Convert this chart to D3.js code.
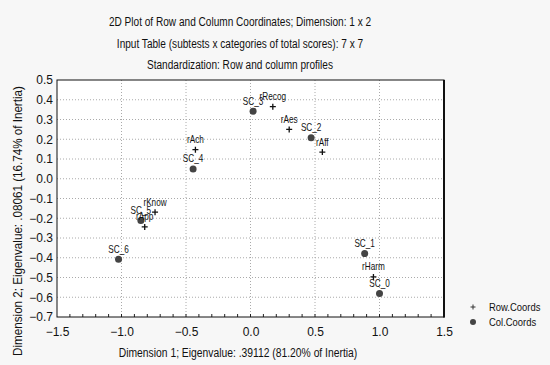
<!DOCTYPE html>
<html>
<head>
<meta charset="utf-8">
<script src="https://cdn.jsdelivr.net/npm/d3@7"></script>
<style>
  body { margin: 0; background: #f7f7f7; }
  text { font-family: "Liberation Sans", Arial, sans-serif; fill: #111; }
</style>
</head>
<body>
<div id="chart"></div>
<script>
// data
const rowLabels = ['rRecog', 'rAes', 'rAff', 'rAch', 'rKnow', 'rApp', 'rHarm'];
const rowX = [0.173, 0.30, 0.557, -0.427, -0.74, -0.82, 0.953];
const rowY = [0.365, 0.25, 0.135, 0.147, -0.169, -0.244, -0.497];

const colLabels = ['SC_0', 'SC_1', 'SC_2', 'SC_3', 'SC_4', 'SC_5', 'SC_6'];
const colX = [1.0, 0.885, 0.47, 0.02, -0.445, -0.85, -1.023];
const colY = [-0.581, -0.379, 0.208, 0.342, 0.05, -0.212, -0.408];

const xTicks = [-1.5, -1.0, -0.5, 0.0, 0.5, 1.0, 1.5];
const yTicks = [0.5, 0.4, 0.3, 0.2, 0.1, 0.0, -0.1, -0.2, -0.3, -0.4, -0.5, -0.6, -0.7];

const titles = [
  '2D Plot of Row and Column Coordinates; Dimension: 1 x 2',
  'Input Table (subtests x categories of total scores): 7 x 7',
  'Standardization: Row and column profiles'
];
const xTitle = 'Dimension 1; Eigenvalue: .39112 (81.20% of Inertia)';
const yTitle = 'Dimension 2; Eigenvalue: .08061 (16.74% of Inertia)';
const legendLabels = ['Row.Coords', 'Col.Coords'];

const width = 550, height = 365;
const plot = { left: 57, right: 444, top: 80, bottom: 317 };

const svg = d3.select('#chart').append('svg')
  .attr('width', width)
  .attr('height', height);

// narrow the text like the original screenshot
function squeeze(sel, k) {
  sel.each(function() {
    const len = this.getComputedTextLength();
    d3.select(this).attr('textLength', len * k).attr('lengthAdjust', 'spacingAndGlyphs');
  });
}

const x = d3.scaleLinear().domain([-1.5, 1.5]).range([plot.left, plot.right]);
const y = d3.scaleLinear().domain([-0.7, 0.5]).range([plot.bottom, plot.top]);

svg.append('rect')
  .attr('x', plot.left).attr('y', plot.top)
  .attr('width', plot.right - plot.left).attr('height', plot.bottom - plot.top)
  .attr('fill', '#fff');

// grid
svg.append('g').selectAll('line')
  .data(xTicks.slice(1, -1))
  .join('line')
  .attr('x1', d => x(d)).attr('x2', d => x(d))
  .attr('y1', plot.top).attr('y2', plot.bottom)
  .attr('stroke', '#aaa').attr('stroke-dasharray', '1,2');

svg.append('g').selectAll('line')
  .data(yTicks.slice(1, -1))
  .join('line')
  .attr('y1', d => y(d)).attr('y2', d => y(d))
  .attr('x1', plot.left).attr('x2', plot.right)
  .attr('stroke', '#aaa').attr('stroke-dasharray', '1,2');

// axes
const xAxis = svg.append('g')
  .attr('transform', `translate(0,${plot.bottom})`)
  .call(d3.axisBottom(x).tickValues(xTicks).tickFormat(d3.format('.1f')).tickSize(0).tickPadding(10));
xAxis.select('.domain').remove();
xAxis.selectAll('text').attr('font-size', 12).attr('fill', '#111');

const yAxis = svg.append('g')
  .attr('transform', `translate(${plot.left},0)`)
  .call(d3.axisLeft(y).tickValues(yTicks).tickFormat(d3.format('.1f')).tickSize(0).tickPadding(4));
yAxis.select('.domain').remove();
yAxis.selectAll('text').attr('font-size', 12).attr('fill', '#111');

// minor ticks on the bottom edge
svg.append('g').selectAll('line')
  .data(d3.range(-14, 15).map(i => i / 10))
  .join('line')
  .attr('x1', d => x(d)).attr('x2', d => x(d))
  .attr('y1', plot.bottom).attr('y2', plot.bottom - 3)
  .attr('stroke', '#222');

// frame
svg.append('rect')
  .attr('x', plot.left).attr('y', plot.top)
  .attr('width', plot.right - plot.left).attr('height', plot.bottom - plot.top)
  .attr('fill', 'none').attr('stroke', '#111');
svg.append('line')
  .attr('x1', plot.right).attr('x2', plot.right)
  .attr('y1', plot.top).attr('y2', plot.bottom + 0.5)
  .attr('stroke', '#111').attr('stroke-width', 2);

// titles
const titleY = [26, 48, 69];
svg.append('g').selectAll('text')
  .data(titles)
  .join('text')
  .attr('x', 240).attr('y', (d, i) => titleY[i])
  .attr('text-anchor', 'middle')
  .attr('font-size', 12)
  .text(d => d)
  .call(squeeze, 0.84);

svg.append('text')
  .attr('x', 238).attr('y', 357)
  .attr('text-anchor', 'middle')
  .attr('font-size', 12)
  .text(xTitle)
  .call(squeeze, 0.86);

svg.append('text')
  .attr('transform', 'translate(22,221) rotate(-90)')
  .attr('text-anchor', 'middle')
  .attr('font-size', 12)
  .text(yTitle)
  .call(squeeze, 0.97);

// plus marker
function plusPath(s) {
  return `M${-s},0H${s}M0,${-s}V${s}`;
}

const rows = rowLabels.map((d, i) => ({ label: d, x: rowX[i], y: rowY[i] }));
const cols = colLabels.map((d, i) => ({ label: d, x: colX[i], y: colY[i] }));

svg.append('g').selectAll('path')
  .data(rows)
  .join('path')
  .attr('transform', d => `translate(${x(d.x)},${y(d.y)})`)
  .attr('d', plusPath(3))
  .attr('stroke', '#111').attr('stroke-width', 1.3);

svg.append('g').selectAll('circle')
  .data(cols)
  .join('circle')
  .attr('cx', d => x(d.x)).attr('cy', d => y(d.y))
  .attr('r', 3.5)
  .attr('fill', '#444');

// point labels (overlaps are as in the original)
svg.append('g').selectAll('text')
  .data(rows.concat(cols))
  .join('text')
  .attr('x', d => x(d.x)).attr('y', d => y(d.y) - 6.5)
  .attr('text-anchor', 'middle')
  .attr('font-size', 10.5)
  .text(d => d.label)
  .call(squeeze, 0.78);

// legend
const legend = svg.append('g');
legend.append('path')
  .attr('transform', 'translate(473,307)')
  .attr('d', plusPath(2.5))
  .attr('stroke', '#333');
legend.append('circle')
  .attr('cx', 473).attr('cy', 322).attr('r', 3)
  .attr('fill', '#444');
legend.selectAll('text')
  .data(legendLabels)
  .join('text')
  .attr('x', 489).attr('y', (d, i) => 311 + i * 15)
  .attr('font-size', 11.5)
  .text(d => d)
  .call(squeeze, 0.82);
</script>
</body>
</html>
